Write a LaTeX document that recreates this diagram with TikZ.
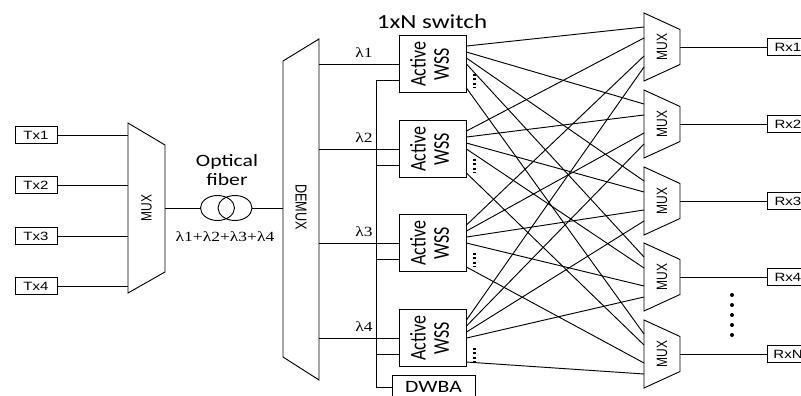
\documentclass[tikz,border=0pt]{standalone}
\usepackage{fontspec}
\setmainfont{Liberation Sans}
\newfontfamily\calibri{Carlito}
\newfontfamily\timesf{Liberation Serif}
\usepackage{graphicx}
\usepackage{tikz}
\usetikzlibrary{positioning}
\usetikzlibrary{shapes.geometric}
\usetikzlibrary{calc}
\newcommand{\hw}[1]{\scalebox{1.25}[1]{#1}}
\newcommand{\vw}[1]{\scalebox{1}[1.25]{#1}}

\begin{document}
\begin{tikzpicture}[x=0.75pt,y=-0.75pt,line width=0.7pt,
  txbox/.style={draw,inner sep=0pt,minimum width=31.5pt,minimum height=12.5pt,font=\fontsize{9}{10}\selectfont},
  wssbox/.style={draw,inner sep=0pt,minimum width=50.25pt,minimum height=42.75pt,font=\calibri\fontsize{13.5}{14}\selectfont},
  fib/.style={draw,ellipse,inner sep=0pt,minimum width=25.5pt,minimum height=18.75pt},
  lam/.style={font=\timesf\fontsize{10.5}{12}\selectfont},
  muxlbl/.style={rotate=90,font=\fontsize{9}{10}\selectfont}]
  \useasboundingbox (0,0) rectangle (801,396);
  \clip (0,0) rectangle (801,396);
  % transmitters and first MUX
  \draw (128,123) -- (165,145) -- (165,272) -- (128,293) -- cycle;
  \node[muxlbl] at (146.5,208) {\vw{MUX}};
  \coordinate (lmuxw) at (128,208);
  \coordinate (lmuxe) at (165,208);
  \foreach \i/\y in {1/135,2/185,3/236,4/286}
    {\node[txbox] (tx\i) at (36,\y) {\hw{Tx\i}};
     \draw (tx\i.east) -- (tx\i.east -| lmuxw);}
  % demultiplexer
  \draw (283,61) -- (319,39) -- (319,380) -- (283,357) -- cycle;
  \node[rotate=-90,font=\fontsize{9.5}{10}\selectfont] at (301,207) {\vw{DEMUX}};
  \coordinate (dmxw) at (283,208);
  \coordinate (dmxe) at (319,208);
  \coordinate (bus) at (376,208);
  % fiber link
  \node[fib] (f1) at (217.5,208) {};
  \node[fib] (f2) at (235,208) {};
  \draw (lmuxe) -- (f1.west);
  \draw (f2.east) -- (dmxw);
  \node[font=\calibri\fontsize{13}{14.25}\selectfont] (fibtxt) at (227,172)
    {\hw{\begin{tabular}{@{}c@{}}Optical\\fiber\end{tabular}}};
  \node[lam] (sum) at (225,237) {\hw{λ1+λ2+λ3+λ4}};
  % active WSS (1xN switches)
  \node[font=\calibri\fontsize{15}{16}\selectfont] at (432,22) {\hw{1xN switch}};
  \foreach \i/\y in {1/64,2/149,3/243,4/338}
    {\node[wssbox] (wss\i) at (432.5,\y)
       {\rotatebox{90}{\vw{\begin{tabular}{@{}c@{}}Active\\WSS\end{tabular}}}};
     \draw (wss\i.west -| dmxe) -- (wss\i.west);
     \node[lam] at ($(wss\i.west -| bus)+(-12,-11)$) {\hw{λ\i}};
     \coordinate (wi\i) at ($(wss\i.west)+(0,16.5)$);
     \draw (wi\i -| bus) -- (wi\i);
     \draw[line width=1.8pt,dash pattern=on 1.6pt off 1.6pt] ($(wss\i.east)+(8,10)$) -- ++(0,14);
     \foreach \j/\o in {1/11,2/17,3/23,4/29,5/53}
       \coordinate (w\i-\j) at ($(wss\i.north east)+(0,\o)$);}
  \node[draw,inner sep=0pt,minimum width=62.25pt,minimum height=18pt,
    font=\calibri\fontsize{13}{14}\selectfont] (dwba) at (433.5,387) {\hw{DWBA}};
  \draw (wi1 -| bus) -- (dwba.west -| bus) -- (dwba.west);
  % output MUXes and receivers
  \foreach \j/\y/\r in {1/47/1,2/124/2,3/201/3,4/277/4,5/354/N}
    {\draw (644,\y-34) -- (680,\y-17.5) -- (680,\y+17.5) -- (644,\y+34) -- cycle;
     \node[muxlbl] at (662,\y) {\vw{MUX}};
     \coordinate (mo\j) at (680,\y);
     \node[txbox] (rx\j) at (788,\y) {\hw{Rx\r}};
     \draw (mo\j) -- (rx\j.west);
     \foreach \i/\o in {1/-20,2/-9,3/9,4/20}
       \coordinate (m\j-\i) at (644,\y+\o);}
  % WSS to MUX mesh
  \foreach \i in {1,...,4}
    \foreach \j in {1,...,5}
      \draw (w\i-\j) -- (m\j-\i);
  \foreach \k in {0,...,4}
    \fill (732,295+\k*10) circle (2);
\end{tikzpicture}
\end{document}
